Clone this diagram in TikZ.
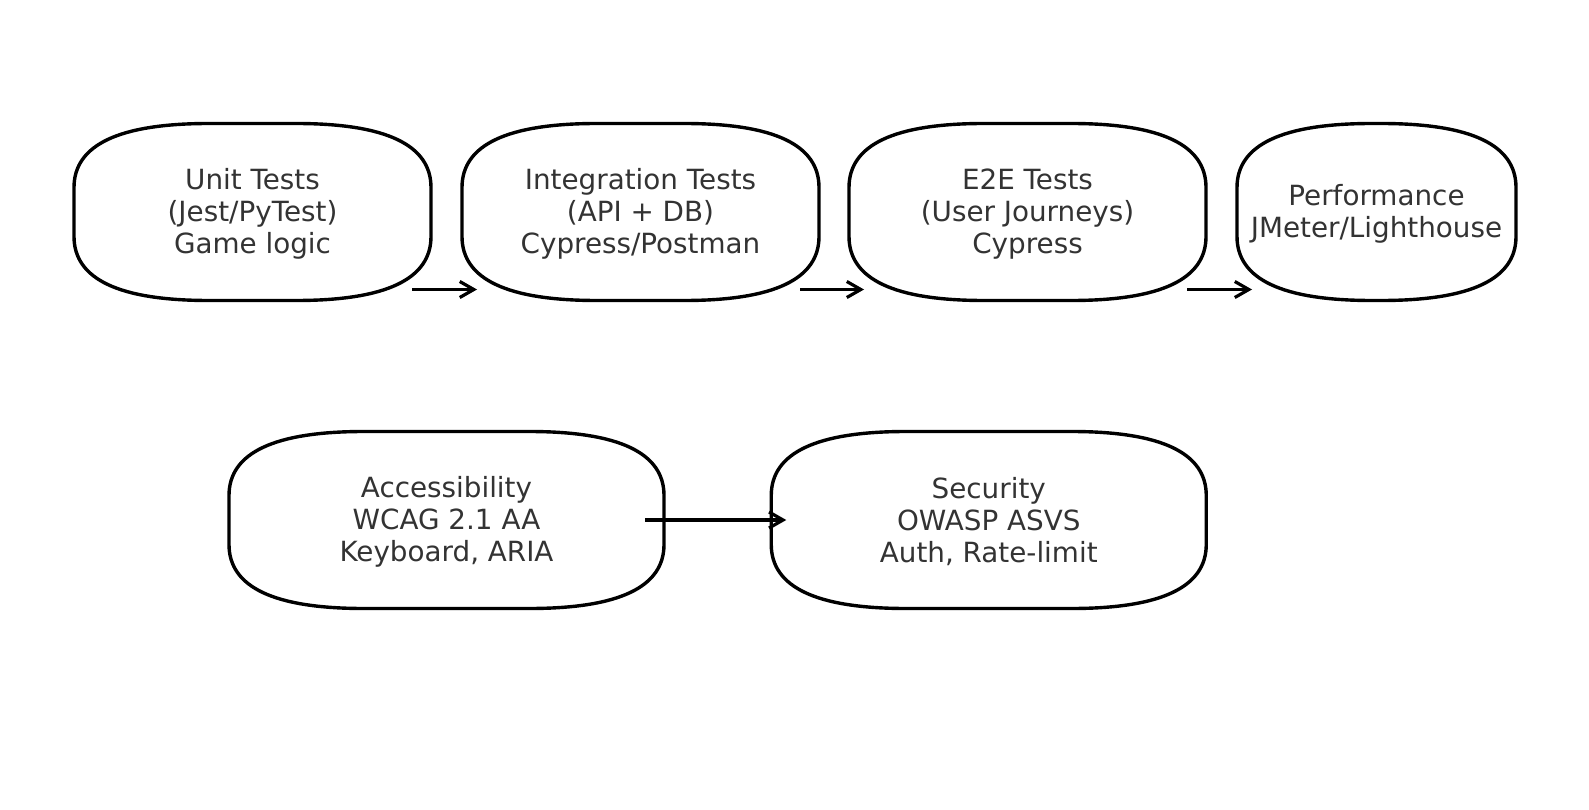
\documentclass[tikz,border=0pt]{standalone}
\usepackage{fontspec}
\setmainfont{DejaVu Sans}
\usetikzlibrary{calc,arrows.meta}
\definecolor{txtgray}{RGB}{51,51,51}
\def\rx{135}
\def\ry{64}
\newcommand\qbox[1]{%
  \draw[boxline]
    ($(#1.north west)+(\rx,0)$) -- ($(#1.north east)+(-\rx,0)$)
    .. controls ($(#1.north east)+(-\rx/3,0)$) and ($(#1.north east)+(0,\ry/3)$) .. ($(#1.north east)+(0,\ry)$)
    -- ($(#1.south east)+(0,-\ry)$)
    .. controls ($(#1.south east)+(0,-\ry/3)$) and ($(#1.south east)+(-\rx/3,0)$) .. ($(#1.south east)+(-\rx,0)$)
    -- ($(#1.south west)+(\rx,0)$)
    .. controls ($(#1.south west)+(\rx/3,0)$) and ($(#1.south west)+(0,-\ry/3)$) .. ($(#1.south west)+(0,-\ry)$)
    -- ($(#1.north west)+(0,\ry)$)
    .. controls ($(#1.north west)+(0,\ry/3)$) and ($(#1.north west)+(\rx/3,0)$) .. ($(#1.north west)+(\rx,0)$)
    -- cycle;}
\tikzset{
  boxnode/.style={inner sep=0pt, outer sep=0pt, minimum height=177pt},
  txt/.style={inner sep=0pt, align=center, text=txtgray, yshift=-2pt,
    font=\fontsize{27.8}{32}\selectfont},
  boxline/.style={line width=3.4pt, draw=black, line join=round},
  flow/.style={line width=3.2pt, draw=black,
    -{Straight Barb[length=14pt,width=16pt,line join=miter]}},
}
\begin{document}
\begin{tikzpicture}[x=1pt,y=-1pt]
\fill[white] (0,0) rectangle (1589,810);
\useasboundingbox (0,0) rectangle (1589,810);

\node[boxnode, minimum width=357pt, label={[txt]center:{Unit Tests\\(Jest/PyTest)\\Game logic}}] (unit) at (252.5,212) {};
\node[boxnode, minimum width=357pt, label={[txt]center:{Integration Tests\\(API + DB)\\Cypress/Postman}}] (integ) at (640.5,212) {};
\node[boxnode, minimum width=357pt, label={[txt]center:{E2E Tests\\(User Journeys)\\Cypress}}] (e2e) at (1027.5,212) {};
\node[boxnode, minimum width=279pt, label={[txt]center:{Performance\\JMeter/Lighthouse}}] (perf) at (1376.5,212) {};
\node[boxnode, minimum width=435pt, label={[txt]center:{Accessibility\\WCAG 2.1 AA\\Keyboard, ARIA}}] (a11y) at (446.5,520) {};
\node[boxnode, minimum width=435pt, label={[txt]center:{Security\\OWASP ASVS\\Auth, Rate-limit}}] (sec) at (988.75,520) {};

\qbox{unit}
\qbox{integ}
\qbox{e2e}
\qbox{perf}
\qbox{a11y}
\qbox{sec}

\draw[flow] ($(unit.south east)+(-19,-11)$) -- ($(integ.south west)+(15,-11)$);
\draw[flow] ($(integ.south east)+(-19,-11)$) -- ($(e2e.south west)+(15,-11)$);
\draw[flow] ($(e2e.south east)+(-19,-11)$) -- ($(perf.south west)+(15,-11)$);
\draw[flow] ($(a11y.east)+(-19,0)$) -- ($(sec.west)+(15,0)$);
\end{tikzpicture}
\end{document}
